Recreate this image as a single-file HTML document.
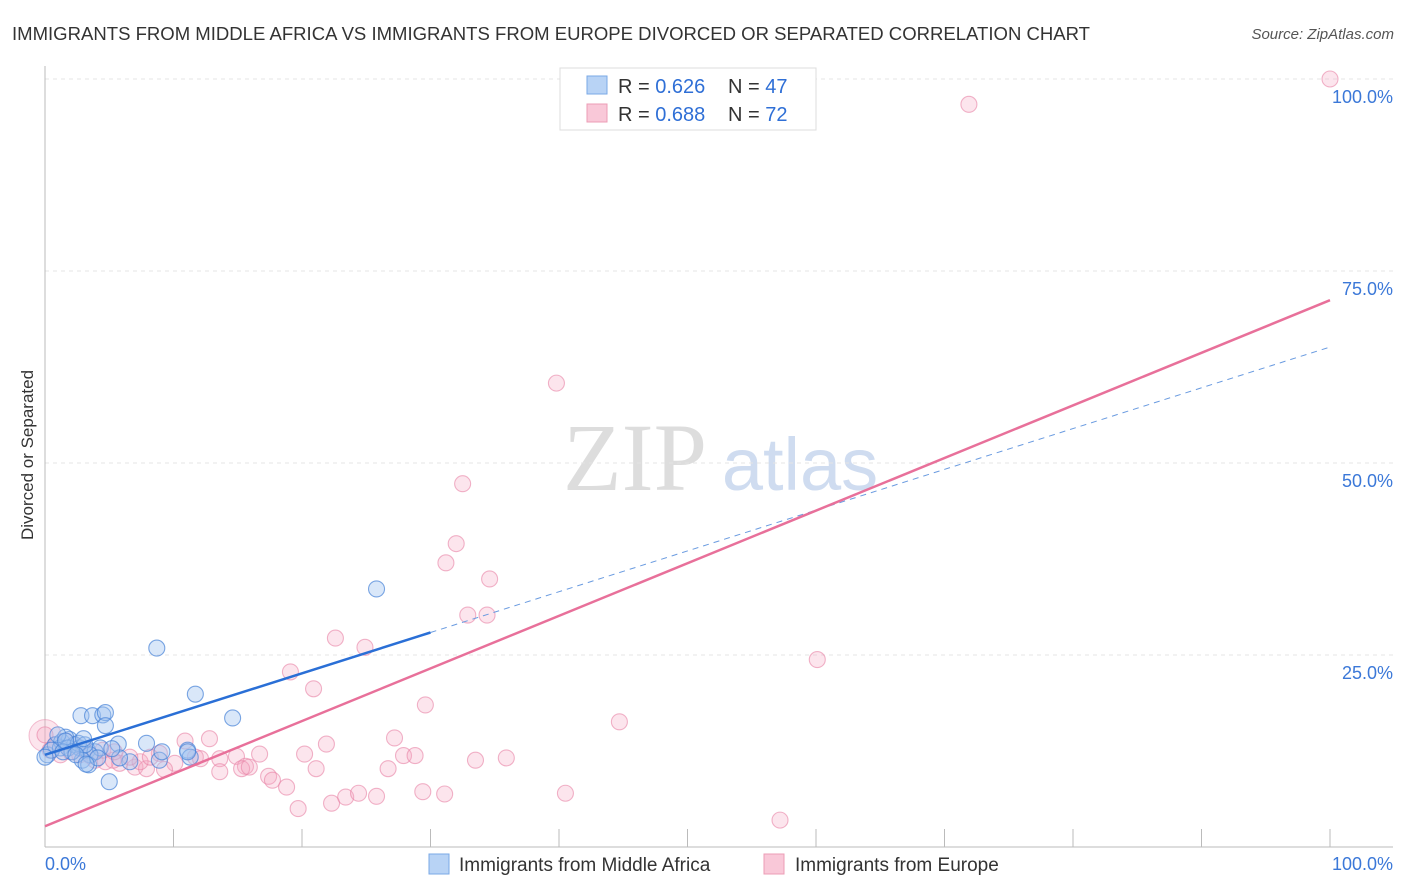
<!DOCTYPE html>
<html><head><meta charset="utf-8"><style>
body{margin:0;background:#fff;font-family:"Liberation Sans",sans-serif}
svg{display:block}
</style></head><body>
<svg id="c" width="1406" height="892">
<text x="12" y="40" font-size="18.5" fill="#333" textLength="1078" lengthAdjust="spacingAndGlyphs">IMMIGRANTS FROM MIDDLE AFRICA VS IMMIGRANTS FROM EUROPE DIVORCED OR SEPARATED CORRELATION CHART</text>
<text x="1394" y="39" font-size="15" fill="#555" font-style="italic" text-anchor="end">Source: ZipAtlas.com</text>
<text x="635" y="490" font-size="96" fill="#ddd" font-family="Liberation Serif" text-anchor="middle">ZIP</text>
<text x="800" y="490" font-size="74" fill="#cfdcf0" text-anchor="middle">atlas</text>
<text transform="translate(33,455) rotate(-90)" font-size="17" fill="#333" text-anchor="middle">Divorced or Separated</text>
<g id="grid"></g><g id="pts"></g><g id="lines"></g>
<g>
<rect x="560" y="68" width="256" height="62" fill="#fff" stroke="#ddd"/>
<rect x="587" y="76" width="20" height="18" fill="#b8d3f5" stroke="#7aa8e6"/>
<rect x="587" y="104" width="20" height="18" fill="#f9c8d8" stroke="#ec9db6"/>
<text x="618" y="93" font-size="20" fill="#333">R = <tspan fill="#2f6fd6">0.626</tspan><tspan x="728">N = </tspan><tspan fill="#2f6fd6">47</tspan></text>
<text x="618" y="121" font-size="20" fill="#333">R = <tspan fill="#2f6fd6">0.688</tspan><tspan x="728">N = </tspan><tspan fill="#2f6fd6">72</tspan></text>
</g>
<g>
<rect x="429" y="854" width="20" height="20" fill="#b8d3f5" stroke="#7aa8e6"/>
<text x="459" y="871" font-size="19" fill="#333">Immigrants from Middle Africa</text>
<rect x="764" y="854" width="20" height="20" fill="#f9c8d8" stroke="#ec9db6"/>
<text x="795" y="871" font-size="19" fill="#333">Immigrants from Europe</text>
</g>
<text x="45" y="870" font-size="18" fill="#3b78d8">0.0%</text>
<text x="1393" y="870" font-size="18" fill="#3b78d8" text-anchor="end">100.0%</text>
</svg>
<script>
const yTicks=[25,50,75,100];
const blueX=[0.2,0.8,1.3,1.9,2.3,2.7,3.3,3.9,4.3,1.2,1.6,0.5,1.8,3.5,2.9,2.6,1.0,3.1,2.8,3.7,4.5,4.7,4.7,5.0,3.4,8.7,7.9,8.9,11.1,11.7,14.6,25.8,11.3,0,2.1,4.1,5.7,6.6,9.1,11.1,5.8,5.2,1.4,2.4,3.0,3.2,1.6];
const blueY=[12.0,13.3,13.7,14.0,13.3,12.9,12.6,12.4,12.9,12.9,14.3,12.6,12.9,12.0,11.3,13.5,14.6,13.3,17.1,17.1,17.2,17.5,15.8,8.5,10.7,25.9,13.5,11.3,12.6,19.9,16.8,33.6,11.7,11.7,12.4,11.6,13.4,11.1,12.4,12.4,11.6,12.8,12.4,12.0,14.1,10.8,13.8];
const pinkX=[100,71.9,39.8,32.5,32,31.2,34.6,32.9,34.4,22.6,24.9,60.1,19.1,20.9,29.6,44.7,12.8,10.9,21.9,27.2,14.9,16.7,20.2,27.9,28.8,33.5,35.9,8.9,10.1,11.7,13.6,15.6,5.8,7.0,7.9,4.7,3.5,1.2,2.0,2.7,0.4,0.8,1.6,2.3,21.1,26.7,17.4,17.7,13.6,15.3,18.8,19.7,22.3,23.4,24.4,25.8,29.4,31.1,40.5,57.2,7.4,9.3,12.1,6.6,5.3,3.9,3.1,0,4.5,8.2,15.9,5.4];
const pinkY=[100,96.7,60.4,47.3,39.5,37.0,34.9,30.2,30.2,27.2,26.0,24.4,22.8,20.6,18.5,16.3,14.1,13.8,13.4,14.2,11.8,12.1,12.1,11.9,11.9,11.3,11.6,12.2,10.9,11.7,11.5,10.5,10.9,10.4,10.2,11.1,11.9,12.0,12.4,12.0,12.6,13.3,13.8,13.3,10.2,10.2,9.2,8.7,9.8,10.2,7.8,5.0,5.7,6.5,7.0,6.6,7.2,6.9,7.0,3.5,11.1,10.1,11.5,11.7,11.3,11.3,12.6,14.6,12.6,11.7,10.4,12.4];
const blueFit=[12.0,65.1], pinkFit=[2.7,71.2];
const X=v=>45+v*12.85, Y=v=>847-v*7.68;
const NS='http://www.w3.org/2000/svg';
function mk(t,a,p){const e=document.createElementNS(NS,t);for(const k in a)e.setAttribute(k,a[k]);p.appendChild(e);return e;}
const grid=document.getElementById('grid');
for(const t of yTicks){
 const l=mk('line',{x1:45,x2:1393,y1:Y(t),y2:Y(t),stroke:'#e4e4e4','stroke-dasharray':'4,4'},grid);
 
 
 const tx=mk('text',{x:1393,y:Y(t)+24,'font-size':18,fill:'#3b78d8','text-anchor':'end'},grid);
 tx.textContent=t.toFixed(1)+'%';
 
 
}
mk('line',{x1:45,x2:45,y1:66,y2:847,stroke:'#bbb'},grid);
mk('line',{x1:45,x2:1393,y1:847,y2:847,stroke:'#bbb'},grid);
for(let i=1;i<=10;i++)mk('line',{x1:45+i*128.5,x2:45+i*128.5,y1:829,y2:847,stroke:'#bbb'},grid);
const pts=document.getElementById('pts');
const big=mk('circle',{cx:X(0),cy:Y(14.5),r:16,fill:'rgba(245,170,195,0.3)',stroke:'rgba(232,130,165,0.5)'},pts);


pinkX.forEach((v,i)=>{const c=mk('circle',{cx:X(v),cy:Y(pinkY[i]),r:8,fill:'rgba(245,170,195,0.3)',stroke:'rgba(232,130,165,0.6)','stroke-width':1.1},pts);
 
 });
blueX.forEach((v,i)=>{const c=mk('circle',{cx:X(v),cy:Y(blueY[i]),r:8,fill:'rgba(160,196,240,0.4)',stroke:'rgba(70,130,215,0.7)','stroke-width':1.1},pts);
 
 });
const lines=document.getElementById('lines');
const f=(fit,x)=>fit[0]+(fit[1]-fit[0])*x/100;
const b1=mk('line',{x1:X(0),y1:Y(f(blueFit,0)),x2:X(30),y2:Y(f(blueFit,30)),stroke:'#2a6fd6','stroke-width':2.5},lines);


const b2=mk('line',{x1:X(30),y1:Y(f(blueFit,30)),x2:X(100),y2:Y(f(blueFit,100)),stroke:'#6a9be0','stroke-width':1,'stroke-dasharray':'6,5'},lines);


const p1=mk('line',{x1:X(0),y1:Y(f(pinkFit,0)),x2:X(100),y2:Y(f(pinkFit,100)),stroke:'#e8709a','stroke-width':2.5},lines);


</script>
</body></html>
